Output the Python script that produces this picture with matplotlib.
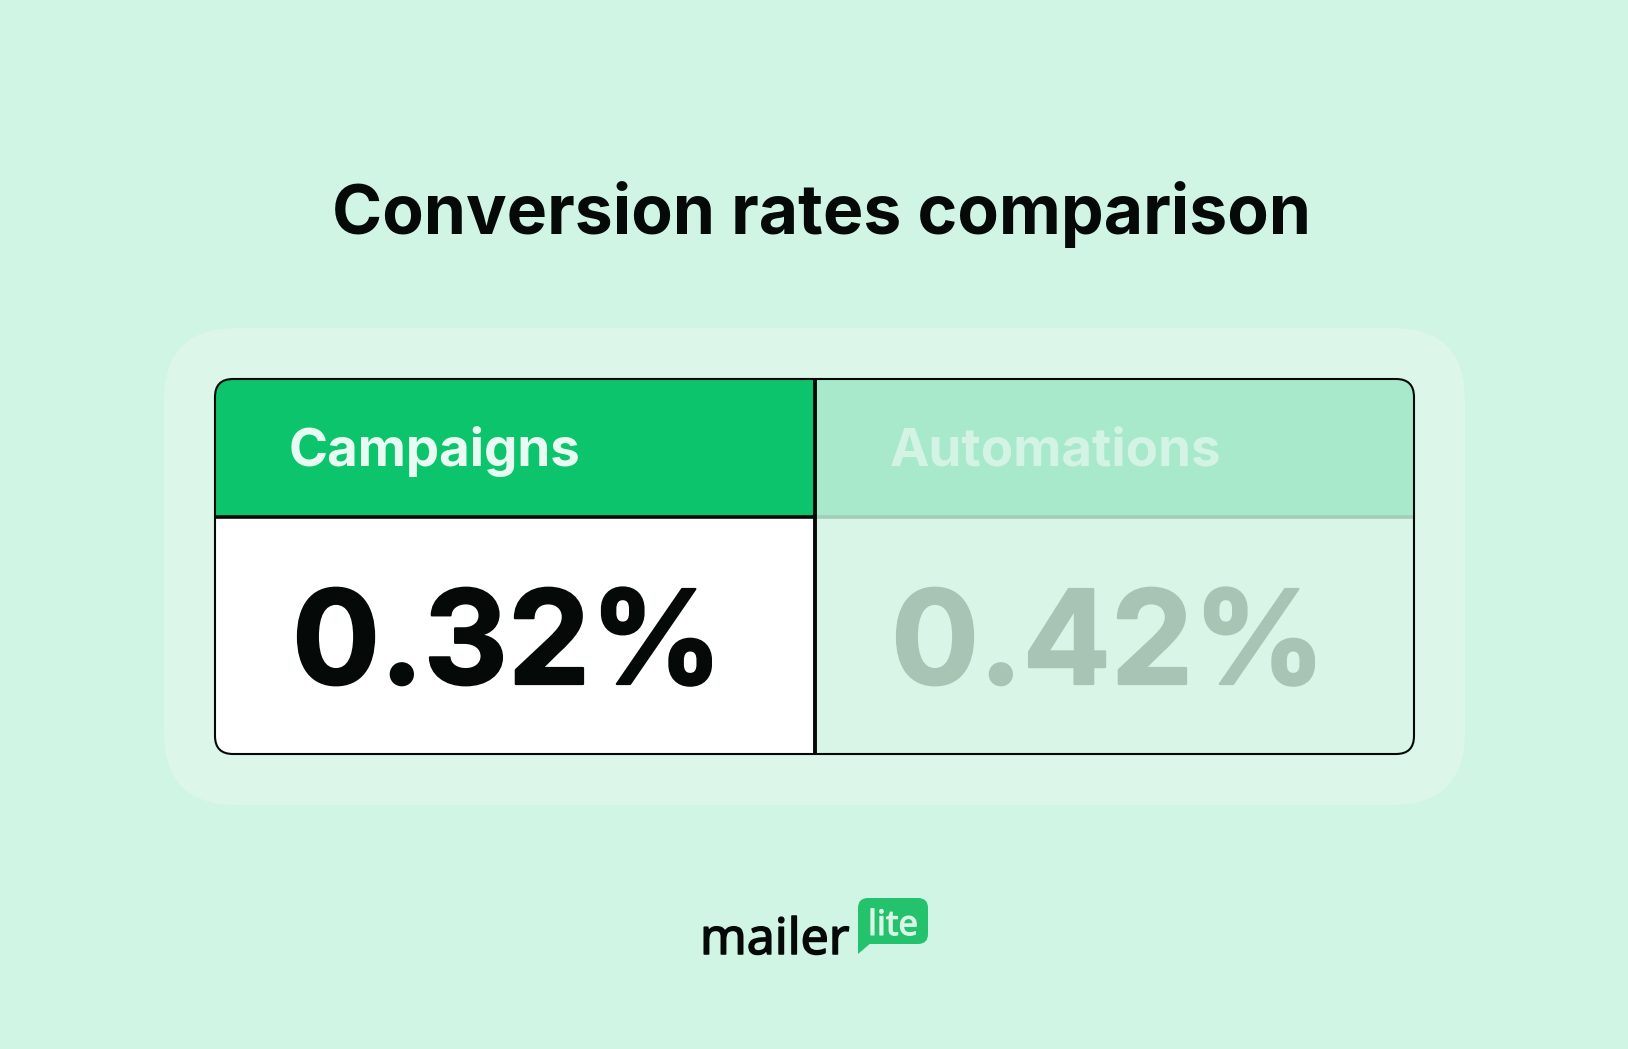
import matplotlib
matplotlib.use('Agg')
import matplotlib.pyplot as plt
import matplotlib.patheffects as pe
from matplotlib.patches import FancyBboxPatch, Rectangle, Polygon

title = 'Conversion rates comparison'
categories = ['Campaigns', 'Automations']
rates = [0.32, 0.42]

BG = '#D0F5E4'
PANEL = '#DCF6E9'
BLACK = '#050A08'

plt.rcParams['font.family'] = ['Inter', 'DejaVu Sans']

fig = plt.figure(figsize=(16.28, 10.49), dpi=100, facecolor=BG)
ax = fig.add_axes([0, 0, 1, 1])
ax.set_xlim(0, 1628)
ax.set_ylim(1049, 0)
ax.axis('off')


def rounded(x0, y0, x1, y1, r, **kw):
    box = FancyBboxPatch((x0, y0), x1 - x0, y1 - y0, boxstyle=f'round,pad=0,rounding_size={r}', **kw)
    ax.add_patch(box)
    return box


def thicken(col, w):
    # the installed fonts are a bit lighter than the original lettering
    return [pe.withStroke(linewidth=w, foreground=col)]


ax.text(822, 234, title, ha='center', va='baseline', fontsize=48.9, fontweight='bold', color=BLACK)

# panel behind the table
rounded(164, 328, 1465, 805, 72, fc=PANEL, ec='none', zorder=1)

# table cells clipped to the rounded outline
left, right, top, bottom = 215, 1414, 379, 754
mid, head = 815, 517
clip = rounded(left, top, right, bottom, 18, fc='none', ec='none', zorder=2)
cells = [
    (left, top, mid, head, '#0CC46C'),
    (mid, top, right, head, '#A9E9CB'),
    (left, head, mid, bottom, '#FFFFFF'),
    (mid, head, right, bottom, '#D9F5E7'),
]
for x0, y0, x1, y1, col in cells:
    cell = Rectangle((x0, y0), x1 - x0, y1 - y0, fc=col, ec='none', zorder=2)
    ax.add_patch(cell)
    cell.set_clip_path(clip)

# grid lines
ax.plot([mid, right], [head, head], color='#A3CDB8', lw=2.6, zorder=3, solid_capstyle='butt')
ax.plot([left, mid], [head, head], color=BLACK, lw=2.6, zorder=3, solid_capstyle='butt')
ax.plot([mid, mid], [top, bottom], color=BLACK, lw=2.8, zorder=3, solid_capstyle='butt')
rounded(left, top, right, bottom, 18, fc='none', ec=BLACK, lw=1.5, zorder=4)

# labels and values
label_x = [289, 890]
value_x = [292, 891]
label_col = ['#E8FBF2', '#D3F3E4']
value_col = [BLACK, '#A8C4B5']
for i in range(len(categories)):
    ax.text(label_x[i], 466, categories[i], ha='left', va='baseline', fontsize=38.1, fontweight='bold', color=label_col[i], zorder=5)
    ax.text(value_x[i], 684, f'{rates[i]:.2f}%', ha='left', va='baseline', fontsize=94, fontweight='bold', color=value_col[i], zorder=5,
            path_effects=thicken(value_col[i], 1.6))

# logo
ax.text(700, 954, 'mailer', ha='left', va='baseline', fontsize=36, family=['Noto Sans', 'DejaVu Sans'], color=BLACK,
        path_effects=thicken(BLACK, 1.1))
rounded(858, 898, 928, 944, 10, fc='#25C26E', ec='none', zorder=2)
ax.add_patch(Polygon([(858, 935), (858, 954), (872, 942)], fc='#25C26E', ec='none', zorder=2))
ax.text(868, 935, 'lite', ha='left', va='baseline', fontsize=25, family=['Noto Sans', 'DejaVu Sans'], color='#D8F5E6', zorder=3,
        path_effects=thicken('#D8F5E6', 0.8))

fig.savefig('out.png', dpi=100, facecolor=BG)
